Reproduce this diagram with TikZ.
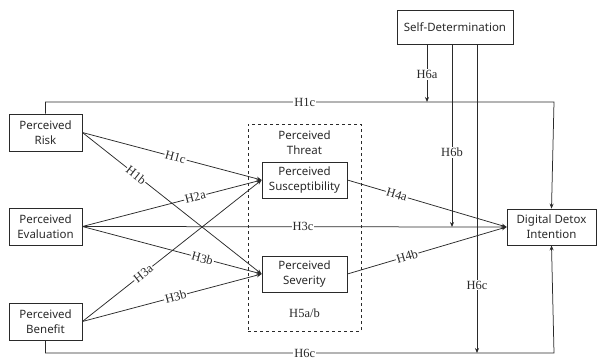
\documentclass[tikz,border=0pt]{standalone}
\usepackage{fontspec}
\newfontfamily\boxfont{Noto Sans}
\newfontfamily\hypfont{Liberation Serif}
\usetikzlibrary{arrows.meta}
\definecolor{ink}{HTML}{2a2a2a}

\begin{document}
\begin{tikzpicture}[x=1pt,y=-1pt,>={Stealth[length=5pt,width=4pt]},
  construct/.style={draw=ink,line width=0.8pt,text=ink,font=\boxfont\fontsize{11.5}{15}\selectfont,align=center,inner sep=1pt},
  hyp/.style={fill=white,text=ink,inner sep=1pt,font=\hypfont\fontsize{12.5}{14}\selectfont},
  path/.style={draw=ink,line width=0.75pt,->}]
  \useasboundingbox (0,0) rectangle (598,359);

  \node[construct,minimum width=73pt,minimum height=37pt] (risk) at (45.5,132.5) {Perceived\\Risk};
  \node[construct,minimum width=73pt,minimum height=37pt] (eval) at (45.5,226.5) {Perceived\\Evaluation};
  \node[construct,minimum width=73pt,minimum height=37pt] (benefit) at (45.5,321.5) {Perceived\\Benefit};

  \node[draw=ink,dashed,line width=0.7pt,minimum width=113pt,minimum height=207pt] (threat) at (304.5,227.5) {};
  \node[text=ink,font=\boxfont\fontsize{11.5}{15}\selectfont,align=center] (threatlbl) at (304.5,142.5) {Perceived\\Threat};
  \node[construct,minimum width=85pt,minimum height=36pt] (susc) at (304.5,180) {Perceived\\Susceptibility};
  \node[construct,minimum width=85pt,minimum height=36pt] (sev) at (304.5,274) {Perceived\\Severity};
  \node[hyp,fill=none] (h5) at (304.5,313) {H5a/b};

  \node[construct,minimum width=116pt,minimum height=34pt] (sd) at (455,27) {Self-Determination};
  \node[construct,minimum width=89pt,minimum height=36pt] (ddi) at (551.5,227) {Digital Detox\\Intention};

  \coordinate (topcorner) at (554,102);
  \coordinate (botcorner) at (554,353);

  % antecedents -> threat
  \draw[path] (risk.east) -- node[hyp,sloped,pos=0.52] {H1c} (susc.west);
  \draw[path] (risk.east) -- node[hyp,sloped,pos=0.30] {H1b} (sev.west);
  \draw[path] (eval.east) -- node[hyp,sloped,pos=0.63] {H2a} (susc.west);
  \draw[path] (eval.east) -- node[hyp,sloped,pos=0.67] {H3b} (sev.west);
  \draw[path] (benefit.east) -- node[hyp,sloped,pos=0.34] {H3a} (susc.west);
  \draw[path] (benefit.east) -- node[hyp,sloped,pos=0.52] {H3b} (sev.west);

  % threat -> intention
  \draw[path] (susc.east) -- node[hyp,sloped,pos=0.31] {H4a} (ddi.west);
  \draw[path] (sev.east) -- node[hyp,sloped,pos=0.375] {H4b} (ddi.west);

  % direct paths
  \draw[path] (eval.east) -- node[hyp,pos=0.52] {H3c} (ddi.west);
  \draw[path] (risk.north) |- node[hyp,pos=0.755] {H1c} (topcorner) -- (ddi.north);
  \draw[path] (benefit.south) |- node[hyp,pos=0.755] {H6c} (botcorner) -- (ddi.south);

  % moderation
  \draw[path] ([xshift=-28pt]sd.south) -- node[hyp,pos=0.52] {H6a} ([xshift=-28pt]sd.south |- topcorner);
  \draw[path] ([xshift=-3pt]sd.south) -- node[hyp,pos=0.59] {H6b} ([xshift=-3pt]sd.south |- ddi.west);
  \draw[path] ([xshift=22pt]sd.south) -- node[hyp,pos=0.78] {H6c} ([xshift=22pt]sd.south |- botcorner);
\end{tikzpicture}
\end{document}
